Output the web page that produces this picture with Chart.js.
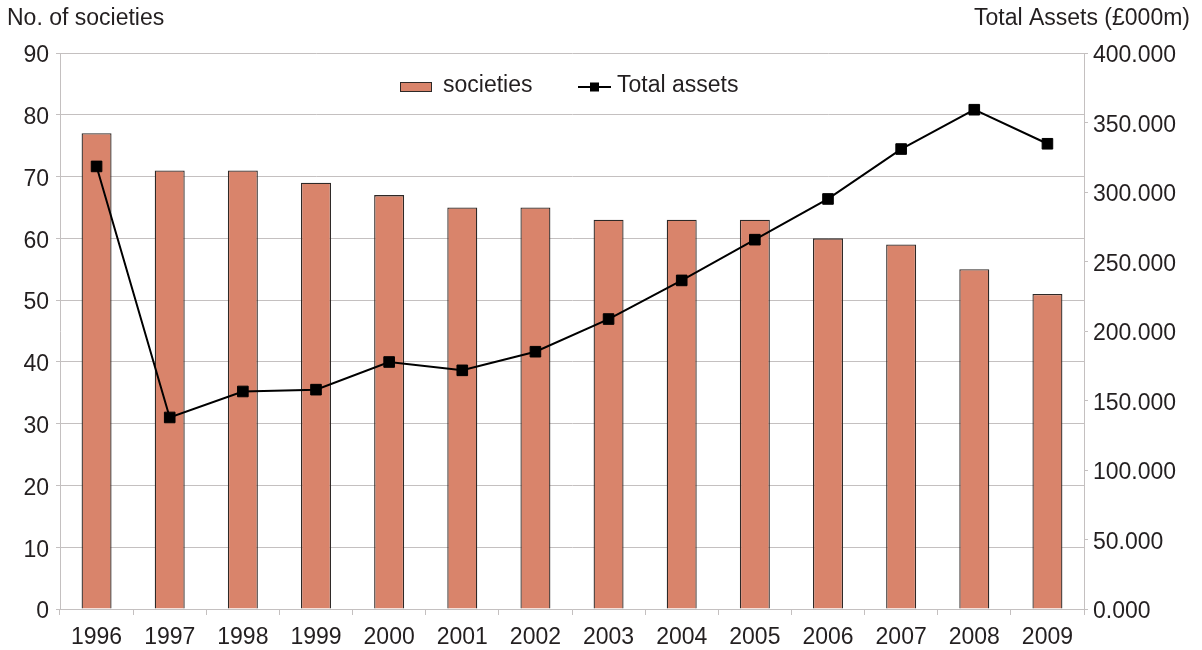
<!DOCTYPE html>
<html>
<head>
    <title>Societies and total assets 1996-2009</title>
    <style>
        body {margin: 0; background: #fff;}
        #chartBox {width: 1202px; height: 650px;}
    </style>
    <script src="https://cdn.jsdelivr.net/npm/chart.js"></script>
</head>
<body>
    <div id="chartBox">
        <canvas id="chart" width="1202" height="650"></canvas>
    </div>

<script>
    var years = ['1996', '1997', '1998', '1999', '2000', '2001', '2002', '2003', '2004', '2005', '2006', '2007', '2008', '2009'];
    var societies = [77, 71, 71, 69, 67, 65, 65, 63, 63, 63, 60, 59, 55, 51];
    var totalAssets = [318.4, 137.8, 156.5, 157.8, 177.7, 171.7, 185.1, 208.6, 236.4, 265.7, 295.0, 330.9, 359.2, 334.7];
    var societiesTicks = [0, 10, 20, 30, 40, 50, 60, 70, 80, 90];
    var assetsTicks = [0, 50, 100, 150, 200, 250, 300, 350, 400];

    var FONT = 'Liberation Sans, Arial, sans-serif';
    var TEXT = '#231f20';
    var GRID = '#c4c0c0';
    var BAR = '#d9846b';

    // axis titles sit above the plot, not rotated
    var axisTitles = {
        id: 'axisTitles',
        afterDraw: function(chart) {
            var ctx = chart.ctx;
            ctx.save();
            ctx.font = '23px ' + FONT;
            ctx.fillStyle = TEXT;
            ctx.textBaseline = 'alphabetic';
            ctx.textAlign = 'left';
            ctx.fillText('No. of societies', 7, 25);
            ctx.textAlign = 'right';
            ctx.fillText('Total Assets (£000m)', 1190, 25);
            ctx.restore();
        }
    };

    // legend drawn inside the plot area
    var innerLegend = {
        id: 'innerLegend',
        afterDraw: function(chart) {
            var ctx = chart.ctx;
            var bars = chart.data.datasets[0];
            var line = chart.data.datasets[1];
            var y = 87;
            ctx.save();
            ctx.font = '23px ' + FONT;
            ctx.fillStyle = TEXT;
            ctx.textBaseline = 'middle';
            ctx.textAlign = 'left';

            // bar swatch
            ctx.fillStyle = bars.backgroundColor;
            ctx.fillRect(400, y - 5, 32, 10);
            ctx.strokeStyle = bars.borderColor;
            ctx.lineWidth = 1;
            ctx.strokeRect(400.5, y - 4.5, 31, 9);
            ctx.fillStyle = TEXT;
            ctx.fillText(bars.label, 443, y - 1);

            // line swatch with marker
            ctx.strokeStyle = line.borderColor;
            ctx.lineWidth = 2;
            ctx.beginPath();
            ctx.moveTo(578, y);
            ctx.lineTo(611, y);
            ctx.stroke();
            ctx.fillStyle = line.pointBackgroundColor;
            ctx.fillRect(590, y - 4.5, 9, 9);
            ctx.fillStyle = TEXT;
            ctx.fillText(line.label, 617, y - 1);
            ctx.restore();
        }
    };

    var ctx = document.getElementById('chart').getContext('2d');
    var chart = new Chart(ctx, {
        data: {
            labels: years,
            datasets: [
                {
                    type: 'bar',
                    label: 'societies',
                    data: societies,
                    yAxisID: 'y',
                    backgroundColor: BAR,
                    borderColor: '#2e2927',
                    borderWidth: 1.3,
                    barPercentage: 0.41,
                    categoryPercentage: 1,
                    order: 2
                },
                {
                    type: 'line',
                    label: 'Total assets',
                    data: totalAssets,
                    yAxisID: 'y1',
                    borderColor: '#000',
                    borderWidth: 2,
                    pointStyle: 'rect',
                    pointRadius: 7.5,
                    pointBackgroundColor: '#000',
                    pointBorderColor: '#000',
                    pointBorderWidth: 1,
                    tension: 0,
                    order: 1
                }
            ]
        },
        options: {
            responsive: false,
            animation: false,
            devicePixelRatio: 1,
            layout: {padding: {top: 53, left: 0, right: 0, bottom: 0}},
            plugins: {
                legend: {display: false},
                tooltip: {enabled: false}
            },
            scales: {
                x: {
                    grid: {offset: true, drawOnChartArea: false, tickLength: 6, color: GRID},
                    border: {color: GRID},
                    ticks: {font: {family: FONT, size: 23}, color: TEXT, padding: 9, maxRotation: 0},
                    afterFit: function(scale) { scale.height = 41; }
                },
                y: {
                    position: 'left',
                    min: 0,
                    max: 90,
                    afterBuildTicks: function(scale) {
                        scale.ticks = societiesTicks.map(function(v) { return {value: v}; });
                    },
                    grid: {color: GRID, tickLength: 4},
                    border: {color: GRID},
                    ticks: {font: {family: FONT, size: 23}, color: TEXT, padding: 7, labelOffset: 3},
                    afterFit: function(scale) { scale.width = 60; }
                },
                y1: {
                    position: 'right',
                    min: 0,
                    max: 400,
                    afterBuildTicks: function(scale) {
                        scale.ticks = assetsTicks.map(function(v) { return {value: v}; });
                    },
                    grid: {drawOnChartArea: false, color: GRID, tickLength: 4},
                    border: {color: GRID},
                    ticks: {
                        font: {family: FONT, size: 23},
                        color: TEXT,
                        padding: 5,
                        labelOffset: 3,
                        callback: function(v) { return v.toFixed(3); }
                    },
                    afterFit: function(scale) { scale.width = 118; }
                }
            }
        },
        plugins: [axisTitles, innerLegend]
    });
</script>
</body>
</html>
